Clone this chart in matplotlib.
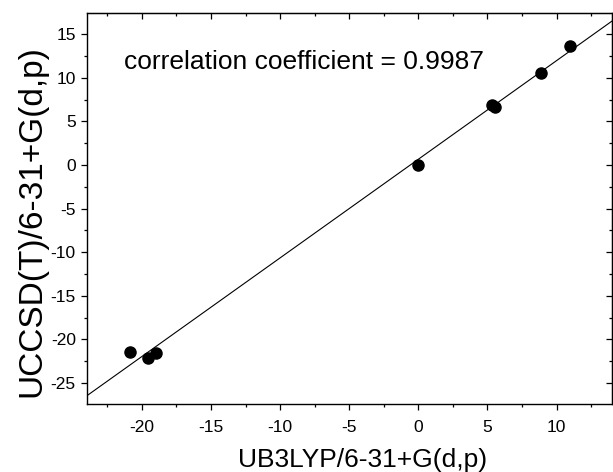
import matplotlib
matplotlib.use('Agg')
import matplotlib.pyplot as plt
import numpy as np
from matplotlib.ticker import MultipleLocator

plt.rcParams['font.family'] = ['Liberation Sans', 'DejaVu Sans']
# 负号用普通的 '-'
plt.rcParams['axes.unicode_minus'] = False

# 数据
ub3lyp = [-20.9, -19.55, -18.95, 0.0, 5.3, 5.58, 8.9, 10.95]
uccsd = [-21.4, -22.1, -21.5, 0.0, 6.9, 6.7, 10.6, 13.66]
r_text = 'correlation coefficient = 0.9987'

fig = plt.figure(figsize=(6.13, 4.72), dpi=100)
ax = fig.add_axes([0.1414, 0.144, 0.8566, 0.828])

# 线性拟合
k, b = np.polyfit(ub3lyp, uccsd, 1)
xx = np.array([-24, 14])
ax.plot(xx, k * xx + b, color='black', lw=0.8)
ax.plot(ub3lyp, uccsd, 'o', color='black', markersize=8)

ax.set_xlim(-24, 14)
ax.set_ylim(-27.4, 17.4)
ax.xaxis.set_major_locator(MultipleLocator(5))
ax.xaxis.set_minor_locator(MultipleLocator(2.5))
ax.yaxis.set_major_locator(MultipleLocator(5))
ax.yaxis.set_minor_locator(MultipleLocator(2.5))
ax.tick_params(which='major', direction='out', length=4.3, width=0.9, labelsize=12.5)
ax.tick_params(axis='x', which='major', pad=7)
ax.tick_params(which='minor', direction='out', length=2.5, width=0.9)
for s in ax.spines.values():
    s.set_linewidth(1.0)

# 上、右两侧的刻度朝内
top = ax.secondary_xaxis('top')
top.xaxis.set_major_locator(MultipleLocator(5))
top.xaxis.set_minor_locator(MultipleLocator(2.5))
top.tick_params(which='both', direction='in', labeltop=False, width=0.9)
top.tick_params(which='major', length=4.3)
top.tick_params(which='minor', length=2.5)
right = ax.secondary_yaxis('right')
right.yaxis.set_major_locator(MultipleLocator(5))
right.yaxis.set_minor_locator(MultipleLocator(2.5))
right.tick_params(which='both', direction='in', labelright=False, width=0.9)
right.tick_params(which='major', length=4.3)
right.tick_params(which='minor', length=2.5)

ax.set_xlabel('UB3LYP/6-31+G(d,p)', fontsize=19)
ax.set_ylabel('UCCSD(T)/6-31+G(d,p)', fontsize=24)
ax.xaxis.set_label_coords(0.526, -0.112)
ax.yaxis.set_label_coords(-0.074, 0.469)
ax.text(0.071, 0.875, r_text, transform=ax.transAxes, fontsize=19,
        ha='left', va='center')

plt.savefig('out.png', dpi=100)
